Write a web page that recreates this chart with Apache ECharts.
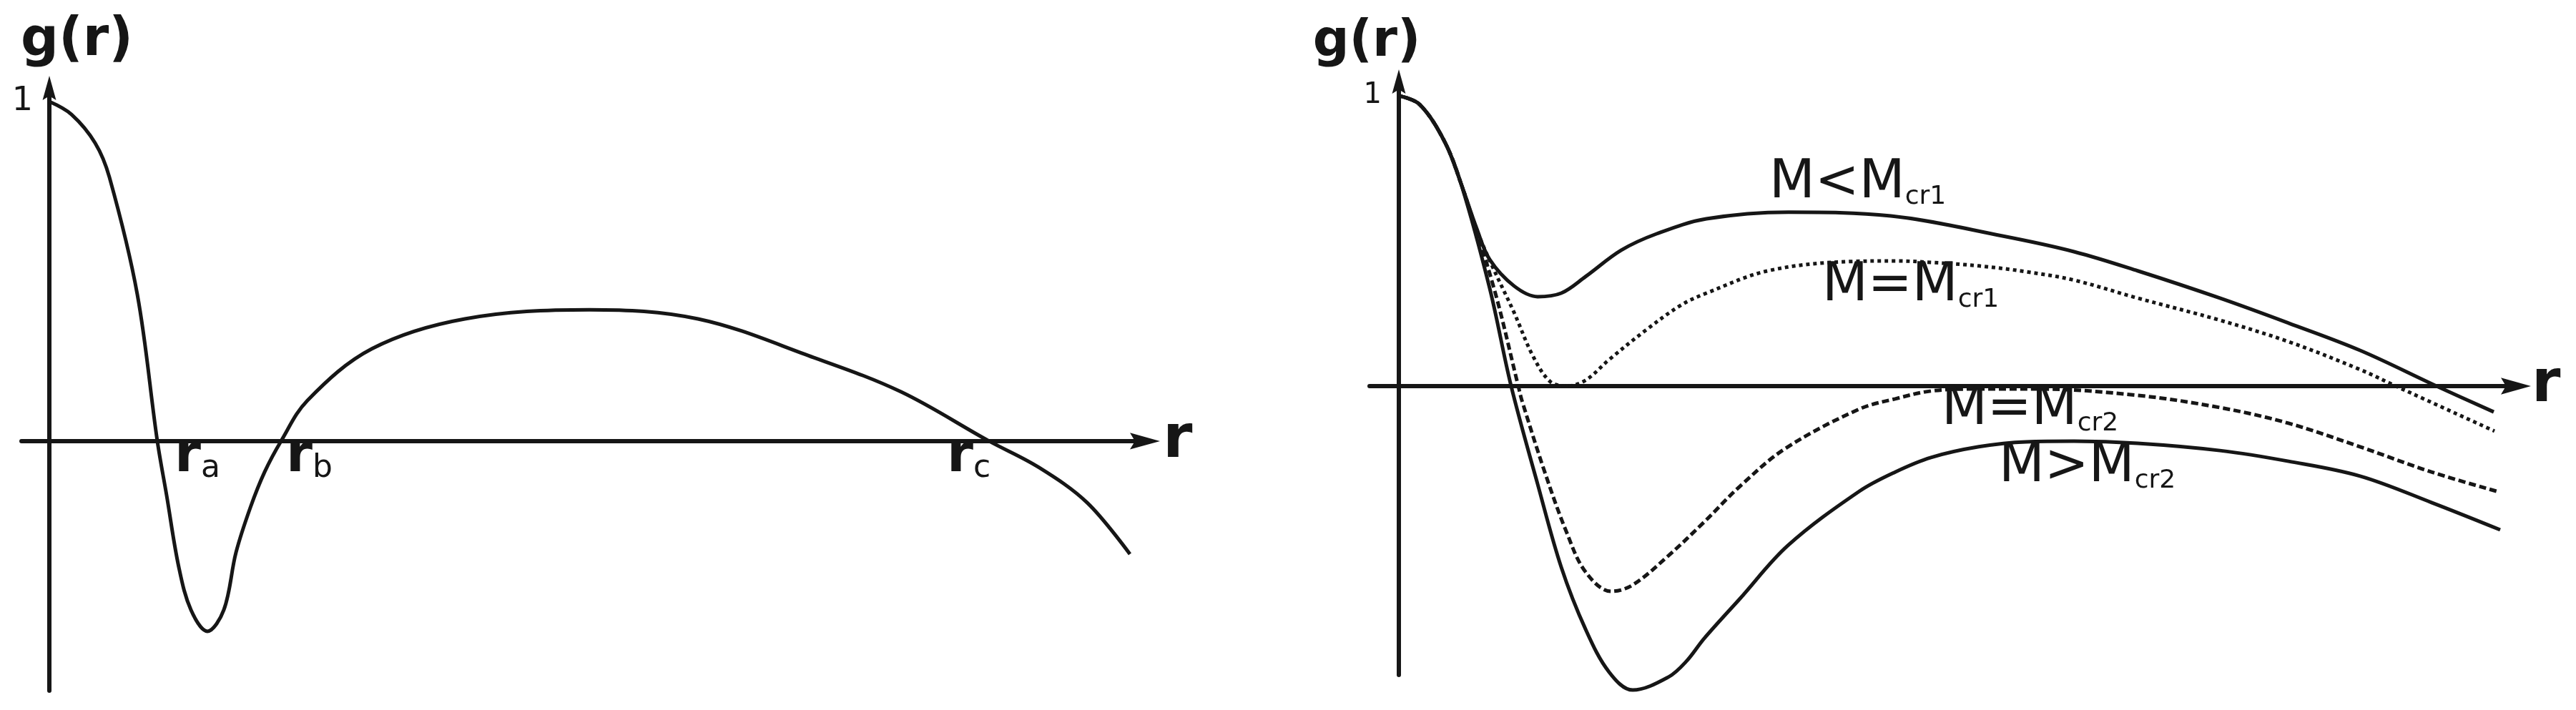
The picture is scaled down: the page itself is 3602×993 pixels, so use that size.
<!DOCTYPE html>
<html>
<head>
<meta charset="utf-8">
<title>g(r)</title>
<script src="https://cdn.jsdelivr.net/npm/echarts@6/dist/echarts.min.js"></script>
<style>
    html, body { margin: 0; padding: 0; background: #fff; }
    #chart { width: 3602px; height: 993px; }
</style>
</head>
<body>
<div id="chart"></div>
<script>
// left panel: one g(r) curve, crosses zero at ra, rb, rc
const leftR = [0, 0.31, 0.64, 0.84, 1.23, 1.51, 1.64, 1.81, 1.98, 2.21, 2.44, 2.61, 2.81, 3.01, 3.24, 3.61, 4.51, 5.81, 7.55, 9.07, 10.69, 11.91, 13.14, 13.84, 14.51, 15.11];
const leftG = [1, 0.962, 0.878, 0.777, 0.432, 0, -0.160, -0.371, -0.497, -0.560, -0.497, -0.328, -0.196, -0.091, 0, 0.120, 0.272, 0.360, 0.387, 0.360, 0.246, 0.145, 0, -0.078, -0.181, -0.333];

// right panel: four curves
const lessR = [0, 0.29, 0.64, 0.87, 1.09, 1.27, 1.61, 1.94, 2.27, 2.61, 3.11, 3.61, 4.30, 5.45, 6.88, 8.44, 9.44, 10.33, 11.48, 12.44, 13.44, 14.51, 15.31];
const lessG = [1, 0.970, 0.842, 0.697, 0.542, 0.436, 0.345, 0.308, 0.320, 0.377, 0.468, 0.525, 0.576, 0.599, 0.586, 0.517, 0.463, 0.397, 0.303, 0.217, 0.123, 0, -0.089];

const cr1R = [0, 0.29, 0.64, 0.87, 1.09, 1.31, 1.61, 1.87, 2.11, 2.34, 2.61, 2.94, 3.44, 3.94, 4.30, 5.16, 6.31, 6.94, 7.44, 8.11, 8.77, 9.44, 10.33, 11.48, 12.44, 13.44, 13.94, 15.32];
const cr1G = [1, 0.970, 0.842, 0.697, 0.537, 0.411, 0.254, 0.106, 0.017, 0, 0.020, 0.091, 0.190, 0.278, 0.320, 0.397, 0.429, 0.431, 0.426, 0.414, 0.394, 0.365, 0.303, 0.227, 0.153, 0.057, 0, -0.155];

const cr2R = [0, 0.29, 0.64, 0.87, 1.33, 1.67, 1.72, 2.04, 2.34, 2.61, 2.97, 3.27, 3.77, 4.27, 4.77, 5.41, 6.44, 6.94, 7.44, 8.11, 8.94, 10.33, 11.48, 12.44, 13.44, 14.44, 15.39];
const cr2G = [1, 0.970, 0.842, 0.697, 0.337, 0, -0.049, -0.296, -0.500, -0.640, -0.707, -0.685, -0.584, -0.468, -0.345, -0.214, -0.079, -0.044, -0.017, -0.010, -0.010, -0.032, -0.074, -0.128, -0.209, -0.296, -0.365];

const moreR = [0, 0.29, 0.64, 0.87, 1.27, 1.57, 1.94, 2.27, 2.61, 2.94, 3.27, 3.77, 4.02, 4.27, 4.77, 5.44, 6.44, 6.94, 7.44, 8.11, 8.77, 9.44, 10.33, 11.48, 12.44, 13.44, 14.44, 15.40];
const moreG = [1, 0.970, 0.842, 0.697, 0.337, 0, -0.337, -0.623, -0.837, -0.985, -1.047, -1.002, -0.948, -0.869, -0.732, -0.549, -0.362, -0.296, -0.246, -0.209, -0.192, -0.190, -0.197, -0.222, -0.259, -0.310, -0.401, -0.495];

const yTicks = [1];

const ink = '#161616';
const fam = 'DejaVu Sans';
const arrowPath = 'path://M10,0L20,36L10,30L0,36Z';

function pairs(xs, ys) {
    return xs.map((x, i) => [x, ys[i]]);
}

function curve(xi, xs, ys, dash) {
    return {
        type: 'line',
        xAxisIndex: xi,
        yAxisIndex: xi,
        data: pairs(xs, ys),
        smooth: 0.35,
        symbol: 'none',
        clip: false,
        z: 3,
        lineStyle: { color: ink, width: 5, type: dash || 'solid', cap: 'butt' }
    };
}

function xAx(idx, min, max, size, gap, pad) {
    return {
        type: 'value', gridIndex: idx, min: min, max: max,
        axisLine: { onZero: true, symbol: ['none', arrowPath], symbolSize: [29, 42], lineStyle: { color: ink, width: 6 } },
        axisTick: { show: false }, axisLabel: { show: false }, splitLine: { show: false },
        name: 'r', nameLocation: 'end', nameGap: gap, nameMoveOverlap: false,
        nameTextStyle: { fontFamily: fam, fontWeight: 'bold', fontSize: size, color: ink, padding: pad }
    };
}

function yAx(idx, min, max, lblSize, lblMargin, size, gap, pad) {
    return {
        type: 'value', gridIndex: idx, min: min, max: max,
        axisLine: { onZero: true, symbol: ['none', arrowPath], symbolSize: [37, 34], lineStyle: { color: ink, width: 6 } },
        axisTick: { show: false }, splitLine: { show: false },
        axisLabel: { customValues: yTicks, margin: lblMargin, fontFamily: fam, fontSize: lblSize, color: ink },
        name: 'g(r)', nameLocation: 'end', nameGap: gap, nameMoveOverlap: false,
        nameTextStyle: { fontFamily: fam, fontWeight: 'bold', fontSize: size, color: ink, padding: pad }
    };
}

// label with a subscript
function subLabel(x, y, main, sub, big, small, bold, lh) {
    return {
        type: 'text', x: x, y: y, z: 10,
        style: {
            text: '{m|' + main + '}{s|' + sub + '}',
            align: 'left', verticalAlign: 'middle',
            textAlign: 'left', textVerticalAlign: 'middle',
            fill: ink,
            rich: {
                m: { fontFamily: fam, fontSize: big, fontWeight: bold ? 'bold' : 'normal', lineHeight: big, fill: ink, color: ink },
                s: { fontFamily: fam, fontSize: small, lineHeight: lh, verticalAlign: 'bottom', fill: ink, color: ink }
            }
        }
    };
}

const chart = echarts.init(document.getElementById('chart'), null, { renderer: 'canvas' });

chart.setOption({
    animation: false,
    backgroundColor: '#ffffff',
    grid: [
        { left: 30, top: 123, width: 1571, height: 843, containLabel: false, outerBoundsMode: 'none' },
        { left: 1915, top: 114, width: 1603, height: 830, containLabel: false, outerBoundsMode: 'none' }
    ],
    xAxis: [
        xAx(0, -0.39, 15.32, 84, 25, [10, 0, 0, 0]),
        xAx(1, -0.41, 15.62, 82, 22, [0, 0, 0, 0])
    ],
    yAxis: [
        yAx(0, -0.735, 1.04, 46, -16, 74, 28, [0, 0, 0, 77]),
        yAx(1, -0.995, 1.049, 40, -17, 71, 19, [0, 90, 0, 0])
    ],
    series: [
        curve(0, leftR, leftG),
        curve(1, lessR, lessG),
        curve(1, cr1R, cr1G, [5, 5]),
        curve(1, cr2R, cr2G, [10, 5]),
        curve(1, moreR, moreG)
    ],
    graphic: [
        subLabel(244, 640, 'r', 'a', 75, 44, true, 23),
        subLabel(400, 640, 'r', 'b', 75, 44, true, 23),
        subLabel(1324, 640, 'r', 'c', 75, 44, true, 23),
        subLabel(2474, 257, 'M<M', 'cr1', 74, 36, false, 22),
        subLabel(2548, 401, 'M=M', 'cr1', 74, 36, false, 22),
        subLabel(2715, 574, 'M=M', 'cr2', 74, 36, false, 22),
        subLabel(2795, 654, 'M>M', 'cr2', 74, 36, false, 22)
    ]
});
</script>
</body>
</html>
